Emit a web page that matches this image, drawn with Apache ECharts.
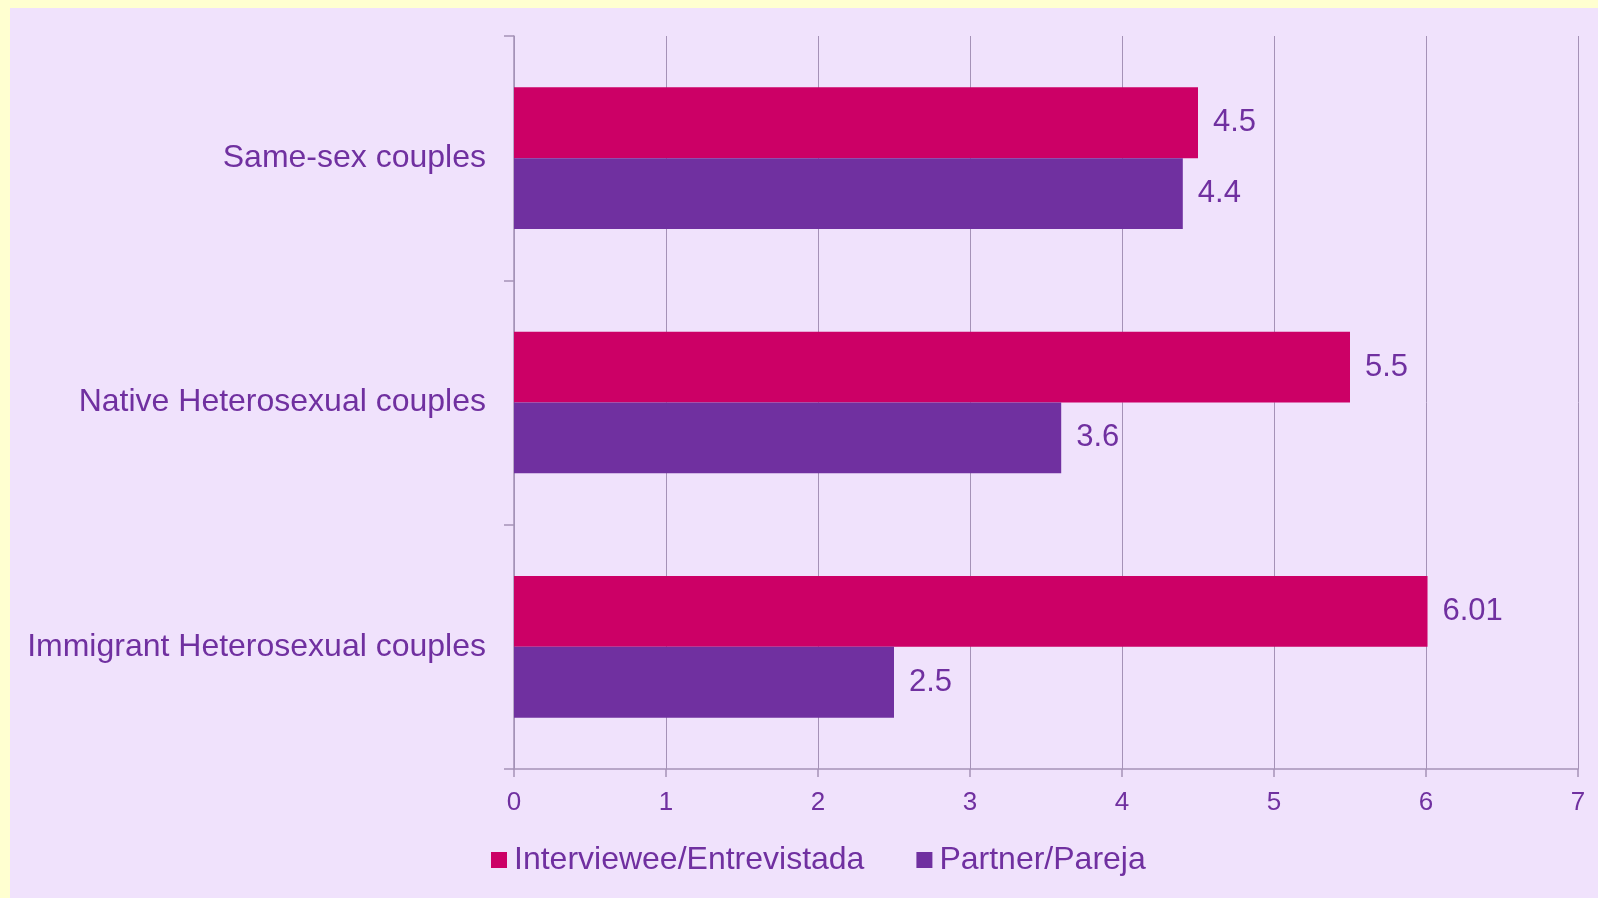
<!DOCTYPE html>
<html>
<head>
<meta charset="utf-8">
<script src="https://cdn.jsdelivr.net/npm/echarts@6/dist/echarts.min.js"></script>
<style>
  html, body { margin: 0; padding: 0; background: #ffffd0; width: 1598px; height: 898px; overflow: hidden; }
  #myChart { position: absolute; left: 10px; top: 8px; width: 1588px; height: 890px; background: #f0e2fc; }
</style>
</head>
<body>
<div id="myChart"></div>
<script>
// chart values
var categories = ["Same-sex couples", "Native Heterosexual couples", "Immigrant Heterosexual couples"];
var interviewee = [4.5, 5.5, 6.01];
var partner = [4.4, 3.6, 2.5];
var seriesNames = ["Interviewee/Entrevistada", "Partner/Pareja"];
var xMin = 0, xMax = 7, xStep = 1;

var txtColor = "#7030a0";
var lineColor = "#a592b7";
var font = "'Liberation Sans', Arial, sans-serif";

var chartDom = document.getElementById("myChart");
var myChart = echarts.init(chartDom);
var option;

var valueLabel = {
  show: true,
  position: "right",
  distance: 15,
  color: txtColor,
  fontSize: 31,
  fontFamily: font,
  formatter: function (p) { return String(p.value); },
};

option = {
  animation: false,
  textStyle: { fontFamily: font },
  grid: {
    left: 504,
    right: 20,
    top: 28,
    bottom: 129,
    containLabel: false,
  },
  legend: {
    left: 476,
    top: 831,
    itemWidth: 16,
    itemHeight: 16,
    itemGap: 52,
    icon: "rect",
    textStyle: { color: txtColor, fontSize: 32, fontFamily: font, padding: [0, 0, 0, 2] },
    data: seriesNames,
  },
  xAxis: {
    type: "value",
    min: xMin,
    max: xMax,
    interval: xStep,
    axisLine: { show: true, lineStyle: { color: lineColor, width: 1.5 } },
    axisTick: { show: true, length: 8, lineStyle: { color: lineColor, width: 1.5 } },
    splitLine: { show: true, lineStyle: { color: lineColor, width: 1 } },
    axisLabel: { color: txtColor, fontSize: 26, fontFamily: font, margin: 21 },
  },
  yAxis: {
    type: "category",
    inverse: true,
    data: categories,
    axisLine: { show: true, lineStyle: { color: lineColor, width: 1.5 } },
    axisTick: { show: true, length: 10, lineStyle: { color: lineColor, width: 1.5 } },
    axisLabel: { color: txtColor, fontSize: 32, fontFamily: font, margin: 28 },
  },
  series: [
    {
      name: seriesNames[0],
      type: "bar",
      data: interviewee,
      barGap: "0%",
      barCategoryGap: "42%",
      itemStyle: { color: "#cc0066" },
      label: valueLabel,
    },
    {
      name: seriesNames[1],
      type: "bar",
      data: partner,
      barGap: "0%",
      barCategoryGap: "42%",
      itemStyle: { color: "#7030a0" },
      label: valueLabel,
    },
  ],
};

option && myChart.setOption(option);
</script>
</body>
</html>
